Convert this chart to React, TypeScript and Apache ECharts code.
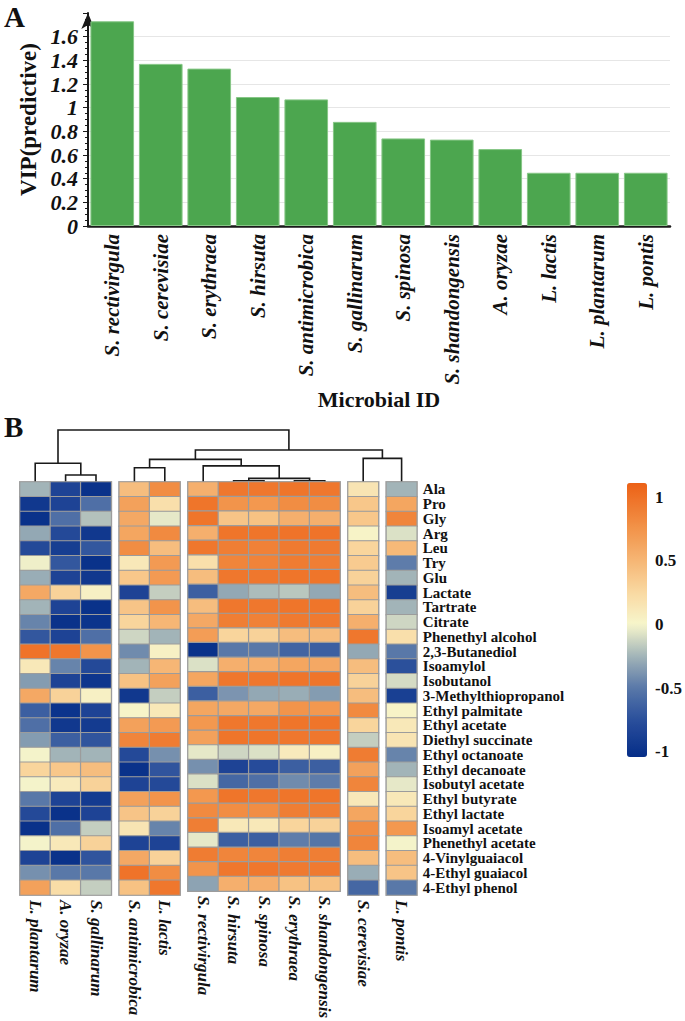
import React, { useEffect, useRef } from "react";
import * as echarts from "echarts";

// ---------- Panel A data ----------
const vipMicrobes = [
  "S. rectivirgula", "S. cerevisiae", "S. erythraea", "S. hirsuta", "S. antimicrobica", "S. gallinarum",
  "S. spinosa", "S. shandongensis", "A. oryzae", "L. lactis", "L. plantarum", "L. pontis",
];
const vipValues = [1.73, 1.37, 1.33, 1.09, 1.07, 0.88, 0.74, 0.73, 0.65, 0.45, 0.45, 0.45];

// ---------- Panel B data ----------
const compounds = [
  "Ala", "Pro", "Gly", "Arg", "Leu", "Try", "Glu", "Lactate", "Tartrate", "Citrate", "Phenethyl alcohol",
  "2,3-Butanediol", "Isoamylol", "Isobutanol", "3-Methylthiopropanol", "Ethyl palmitate", "Ethyl acetate",
  "Diethyl succinate", "Ethyl octanoate", "Ethyl decanoate", "Isobutyl acetate", "Ethyl butyrate",
  "Ethyl lactate", "Isoamyl acetate", "Phenethyl acetate", "4-Vinylguaiacol", "4-Ethyl guaiacol", "4-Ethyl phenol",
];

const heatGroups = [
  ["L. plantarum", "A. oryzae", "S. gallinarum"],
  ["S. antimicrobica", "L. lactis"],
  ["S. rectivirgula", "S. hirsuta", "S. spinosa", "S. erythraea", "S. shandongensis"],
  ["S. cerevisiae"],
  ["L. pontis"],
];

const lPlantarum = [-0.25, -0.95, -1, -0.3, -0.8, -0.02, -0.28, 0.6, -0.25, -0.45, -0.7, 0.98, 0.12, -0.35, 0.6, -0.65, -0.55, -0.35, 0.0, 0.28, 0.0, -0.5, -0.8, -1, 0.0, -0.85, -0.4, 0.65];
const aOryzae = [-0.85, -0.85, -0.55, -0.8, -0.9, -0.7, -0.85, 0.3, -0.85, -1, -0.85, 0.95, -0.45, -0.85, 0.3, -0.98, -0.95, -0.65, -0.25, 0.38, 0.1, -0.85, -1, -0.55, 0.12, -1, -0.5, 0.22];
const sGallinarum = [-1, -0.55, -0.2, -0.95, -0.7, -1, -0.95, 0.05, -1, -0.98, -0.55, 0.75, -0.8, -0.97, 0.05, -0.85, -0.92, -0.72, -0.25, 0.45, 0.3, -0.92, -0.85, -0.15, 0.3, -0.72, -0.5, -0.15];
const sAntimicrobica = [0.45, 0.65, 0.6, 0.62, 0.8, 0.12, 0.38, -0.85, 0.4, 0.28, -0.12, -0.42, -0.25, 0.42, -0.95, 0.02, 0.65, 0.85, -0.8, -1, -0.85, 0.65, 0.4, 0.15, -0.85, 0.6, 0.98, 0.42];
const lLactis = [0.8, 0.2, -0.05, 0.82, 0.45, 0.7, 0.7, -0.15, 0.75, 0.5, -0.25, 0.05, 0.5, 0.65, -0.15, 0.12, 0.7, 0.92, -0.4, -0.72, -0.8, 0.75, 0.3, -0.45, -0.85, 0.3, 0.8, 0.95];
const sRectivirgula = [0.55, 0.97, 0.97, 0.55, 0.95, 0.2, 0.45, -0.65, 0.45, 0.6, 0.68, -1, -0.08, 0.62, -0.65, 0.62, 0.72, 0.65, -0.05, -0.4, -0.08, 0.72, 0.82, 0.9, -0.05, 0.92, 0.75, -0.32];
const sHirsuta = [0.95, 0.75, 0.4, 0.97, 0.9, 0.85, 0.95, -0.3, 0.95, 0.9, 0.28, -0.5, 0.55, 0.95, -0.38, 0.6, 0.95, 0.97, -0.12, -0.85, -0.6, 0.97, 0.8, 0.12, -0.65, 0.85, 0.95, 0.55];
const sSpinosa = [0.95, 0.72, 0.42, 0.97, 0.88, 0.87, 0.95, -0.22, 0.95, 0.88, 0.3, -0.5, 0.55, 0.95, -0.3, 0.6, 0.95, 0.97, -0.08, -0.78, -0.55, 0.95, 0.8, 0.12, -0.65, 0.85, 0.95, 0.55];
const sErythraea = [0.97, 0.8, 0.55, 0.98, 0.93, 0.92, 0.97, -0.18, 0.97, 0.93, 0.45, -0.62, 0.62, 0.97, -0.28, 0.75, 0.97, 0.95, 0.1, -0.65, -0.42, 0.97, 0.9, 0.28, -0.48, 0.9, 0.93, 0.42];
const sShandongensis = [0.95, 0.8, 0.55, 0.98, 0.93, 0.9, 0.97, -0.3, 0.97, 0.93, 0.45, -0.65, 0.6, 0.97, -0.35, 0.72, 0.97, 0.95, 0.05, -0.65, -0.48, 0.97, 0.9, 0.3, -0.52, 0.9, 0.93, 0.42];
const sCerevisiae = [0.15, 0.38, 0.38, 0.03, 0.28, 0.35, 0.3, 0.45, 0.3, 0.55, 0.95, -0.3, 0.45, 0.3, 0.45, 0.82, 0.28, -0.15, 0.92, 0.65, 0.85, 0.12, 0.62, 0.8, 0.85, 0.45, -0.28, -0.6];
const lPontis = [-0.25, 0.62, 0.85, -0.08, 0.48, -0.48, -0.25, -0.9, -0.25, -0.12, 0.2, -0.5, -0.75, -0.1, -0.88, 0.03, 0.12, 0.15, -0.45, -0.25, -0.05, 0.12, 0.28, 0.72, 0.0, 0.45, 0.4, -0.5];

const heatValues: Record<string, number[]> = {
  "L. plantarum": lPlantarum,
  "A. oryzae": aOryzae,
  "S. gallinarum": sGallinarum,
  "S. antimicrobica": sAntimicrobica,
  "L. lactis": lLactis,
  "S. rectivirgula": sRectivirgula,
  "S. hirsuta": sHirsuta,
  "S. spinosa": sSpinosa,
  "S. erythraea": sErythraea,
  "S. shandongensis": sShandongensis,
  "S. cerevisiae": sCerevisiae,
  "L. pontis": lPontis,
};

// dendrogram merges: [left child, right child, height]; child = leaf name or earlier merge index
const dendroMerges: [string | number, string | number, number][] = [
  ["A. oryzae", "S. gallinarum", 0.135],
  ["L. plantarum", 0, 0.36],
  ["S. hirsuta", "S. spinosa", 0.025],
  ["S. erythraea", "S. shandongensis", 0.025],
  [2, 3, 0.07],
  ["S. rectivirgula", 4, 0.31],
  ["S. antimicrobica", "L. lactis", 0.275],
  [6, 5, 0.435],
  ["S. cerevisiae", "L. pontis", 0.455],
  [7, 8, 0.615],
  [1, 9, 1.0],
];

const colorbarTicks = [-1, -0.5, 0, 0.5, 1];

// ---------- styling / layout ----------
const FONT = "'Liberation Serif','Times New Roman',serif";
const HEAT_LEFT = 20;
const HEAT_TOP = 482;
const HEAT_H = 413;
const CELL_W = 30.4;
const GROUP_GAP = 8;
const DENDRO_H = 52;
const CB_MIN = -1.04;
const CB_MAX = 1.11;

const COLOR_STOPS: [number, string][] = [
  [-1.04, "#052d88"],
  [-0.75, "#2a4f9c"],
  [-0.5, "#5878a8"],
  [-0.25, "#a2b4b8"],
  [0, "#f7f6cc"],
  [0.25, "#f9d9a2"],
  [0.5, "#f6b675"],
  [0.75, "#f2944a"],
  [1.11, "#ec6116"],
];

function hexToRgb(h: string) {
  return [parseInt(h.slice(1, 3), 16), parseInt(h.slice(3, 5), 16), parseInt(h.slice(5, 7), 16)];
}
function colorAt(v: number) {
  for (let i = 0; i < COLOR_STOPS.length - 1; i++) {
    const [a, ca] = COLOR_STOPS[i];
    const [b, cb] = COLOR_STOPS[i + 1];
    if (v <= b || i === COLOR_STOPS.length - 2) {
      const t = Math.max(0, Math.min(1, (v - a) / (b - a)));
      const A = hexToRgb(ca);
      const B = hexToRgb(cb);
      const c = A.map((x, k) => Math.round(x + (B[k] - x) * t));
      return `rgb(${c[0]},${c[1]},${c[2]})`;
    }
  }
  return COLOR_STOPS[COLOR_STOPS.length - 1][1];
}
function sampledColors(n: number) {
  const out: string[] = [];
  for (let i = 0; i < n; i++) out.push(colorAt(CB_MIN + ((CB_MAX - CB_MIN) * i) / (n - 1)));
  return out;
}

export default function App() {
  const ref = useRef<HTMLDivElement>(null);

  useEffect(() => {
    document.body.style.margin = "0";
    const chart = echarts.init(ref.current!, null, { renderer: "svg" });

    const heatGrids: any[] = [];
    let x = HEAT_LEFT;
    heatGroups.forEach((g) => {
      heatGrids.push({
        left: x,
        top: HEAT_TOP,
        width: g.length * CELL_W,
        height: HEAT_H,
        show: true,
        borderColor: "#c4c4c4",
        borderWidth: 2,
        backgroundColor: "transparent",
      });
      x += g.length * CELL_W + GROUP_GAP;
    });

    const heatSeries = heatGroups.map((g, gi) => {
      const data: number[][] = [];
      g.forEach((name, ci) => {
        heatValues[name].forEach((v, ri) => data.push([ci, ri, v]));
      });
      return {
        type: "heatmap",
        xAxisIndex: gi + 1,
        yAxisIndex: gi + 1,
        data,
        itemStyle: { borderColor: "#9c9c9c", borderWidth: 1.2 },
        emphasis: { disabled: true },
      };
    });

    const option: any = {
      animation: false,
      backgroundColor: "#ffffff",
      grid: [
        { left: 88, right: 15, top: 13, height: 213 },
        ...heatGrids,
        { left: 627, top: 483, width: 20, height: 274 },
      ],
      xAxis: [
        {
          gridIndex: 0,
          type: "category",
          data: vipMicrobes,
          axisLine: { lineStyle: { color: "#1a1a1a", width: 2.5 } },
          axisTick: { alignWithLabel: true, length: 5, lineStyle: { color: "#1a1a1a" } },
          axisLabel: {
            rotate: 90,
            interval: 0,
            margin: 8,
            fontFamily: FONT,
            fontStyle: "italic",
            fontWeight: "bold",
            fontSize: 21,
            color: "#111",
          },
          name: "Microbial ID",
          nameLocation: "middle",
          nameGap: 161,
          nameTextStyle: { fontFamily: FONT, fontWeight: "bold", fontSize: 22, color: "#111" },
        },
        ...heatGroups.map((g, gi) => ({
          gridIndex: gi + 1,
          type: "category",
          data: g,
          position: "bottom",
          axisLine: { show: false },
          axisTick: { show: false },
          splitLine: { show: false },
          axisLabel: {
            rotate: -90,
            interval: 0,
            margin: 5,
            fontFamily: FONT,
            fontStyle: "italic",
            fontWeight: "bold",
            fontSize: 17,
            color: "#111",
          },
        })),
        { gridIndex: 6, type: "value", show: false },
      ],
      yAxis: [
        {
          gridIndex: 0,
          type: "value",
          min: 0,
          max: 1.8,
          interval: 0.2,
          axisLine: {
            show: true,
            symbol: ["none", "arrow"],
            symbolSize: [10, 16],
            lineStyle: { color: "#1a1a1a", width: 2 },
          },
          axisTick: { show: true, length: 5, lineStyle: { color: "#1a1a1a" } },
          minorTick: { show: true, splitNumber: 4, length: 3, lineStyle: { color: "#1a1a1a" } },
          splitLine: { show: true, showMaxLine: false, showMinLine: false, lineStyle: { color: "#e6e6e6", width: 1 } },
          axisLabel: {
            margin: 10,
            fontFamily: FONT,
            fontStyle: "italic",
            fontWeight: "bold",
            fontSize: 22,
            color: "#111",
            formatter: (v: number) => (v > 1.7 ? "" : String(Math.round(v * 10) / 10)),
          },
          name: "VIP(predictive)",
          nameLocation: "middle",
          nameGap: 33,
          nameTextStyle: { fontFamily: FONT, fontWeight: "bold", fontSize: 23, color: "#111" },
        },
        ...heatGroups.map((g, gi) => ({
          gridIndex: gi + 1,
          type: "category",
          data: compounds,
          inverse: true,
          show: gi === heatGroups.length - 1,
          position: "right",
          axisLine: { show: false },
          axisTick: { show: false },
          splitLine: { show: false },
          axisLabel: {
            interval: 0,
            margin: 6,
            fontFamily: FONT,
            fontWeight: "bold",
            fontSize: 15,
            color: "#111",
          },
        })),
        {
          gridIndex: 6,
          type: "value",
          min: CB_MIN,
          max: CB_MAX,
          position: "right",
          axisLine: { show: false },
          axisTick: { show: false },
          splitLine: { show: false },
          axisLabel: {
            customValues: colorbarTicks,
            margin: 8,
            fontFamily: FONT,
            fontWeight: "bold",
            fontSize: 17,
            color: "#111",
          },
        },
      ],
      visualMap: {
        type: "continuous",
        min: CB_MIN,
        max: CB_MAX,
        seriesIndex: [1, 2, 3, 4, 5],
        left: 627,
        top: 483,
        padding: 0,
        itemWidth: 20,
        itemHeight: 274,
        calculable: false,
        hoverLink: false,
        orient: "vertical",
        inRange: { color: sampledColors(44) },
      },
      series: [
        {
          type: "bar",
          xAxisIndex: 0,
          yAxisIndex: 0,
          data: vipValues,
          barCategoryGap: "10%",
          itemStyle: { color: "#4ca64f", borderColor: "#86c686", borderWidth: 1 },
        },
        ...heatSeries,
      ],
    };

    chart.setOption(option);

    // dendrogram through the heatmap x scales
    const leafX: Record<string, number> = {};
    heatGroups.forEach((g, gi) => {
      g.forEach((name, ci) => {
        leafX[name] = chart.convertToPixel({ xAxisIndex: gi + 1 }, ci) as number;
      });
    });
    const nodes: { x: number; y: number }[] = [];
    const pos = (c: string | number) =>
      typeof c === "string" ? { x: leafX[c], y: HEAT_TOP } : nodes[c];
    const lines: any[] = [];
    dendroMerges.forEach(([l, r, h]) => {
      const a = pos(l);
      const b = pos(r);
      const y = HEAT_TOP - h * DENDRO_H;
      lines.push({
        type: "polyline",
        shape: { points: [[a.x, a.y], [a.x, y], [b.x, y], [b.x, b.y]] },
        style: { stroke: "#1a1a1a", lineWidth: 1.6, fill: null },
        silent: true,
      });
      nodes.push({ x: (a.x + b.x) / 2, y });
    });

    chart.setOption({
      graphic: [
        {
          type: "text",
          left: 4,
          top: 2,
          style: { text: "A", fontFamily: FONT, fontWeight: "bold", fontSize: 29, fill: "#111" },
        },
        {
          type: "text",
          left: 4,
          top: 412,
          style: { text: "B", fontFamily: FONT, fontWeight: "bold", fontSize: 29, fill: "#111" },
        },
        ...lines,
      ],
    });

    return () => chart.dispose();
  }, []);

  return <div ref={ref} style={{ width: 685, height: 1021 }} />;
}
